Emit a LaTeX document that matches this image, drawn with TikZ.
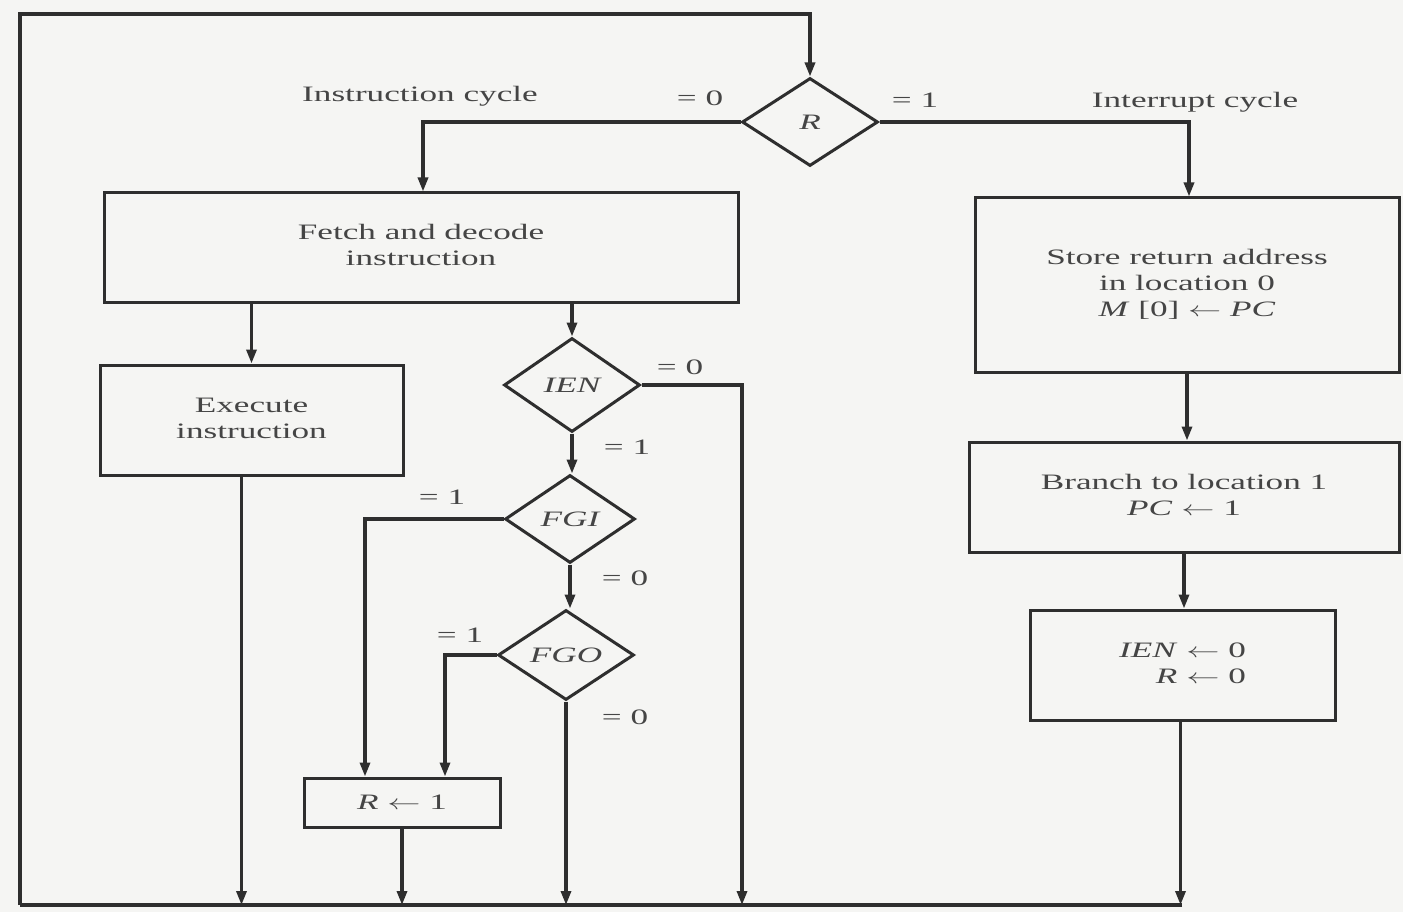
\documentclass[tikz,border=0pt]{standalone}
\usepackage{graphicx}
\usepackage{fontspec}
\setmainfont{Liberation Serif}
\usetikzlibrary{shapes.geometric,arrows.meta,calc}
\newcommand\sx[1]{\scalebox{1.6}[1]{#1}}
\definecolor{ink}{HTML}{2E2E2E}
\definecolor{txt}{HTML}{454545}
\definecolor{paper}{HTML}{F5F5F3}
\begin{document}
\begin{tikzpicture}[x=1pt,y=-1pt,
  line/.style={draw=ink,line width=3.2pt},
  arr/.style={line,-{Triangle[length=14pt,width=10pt]}},
  box/.style={draw=ink,line width=3pt,rectangle,inner sep=0pt,text=txt,font=\fontsize{22}{26}\selectfont},
  dec/.style={draw=ink,line width=3pt,diamond,inner sep=0pt,text=txt,font=\fontsize{22}{26}\selectfont\itshape},
  lbl/.style={text=txt,font=\fontsize{22}{26}\selectfont,inner sep=0pt}]
\fill[paper] (0,0) rectangle (1403,912);
\useasboundingbox (0,0) rectangle (1403,912);

% decisions
\node[dec,minimum width=136pt,minimum height=88pt] (R) at (810,122) {\sx{R}};
\node[dec,minimum width=136pt,minimum height=94pt] (IEN) at (572,385) {\sx{IEN}};
\node[dec,minimum width=130pt,minimum height=88pt] (FGI) at (570,519) {\sx{FGI}};
\node[dec,minimum width=136pt,minimum height=90pt] (FGO) at (566,655) {\sx{FGO}};

% boxes
\node[box,minimum width=634pt,minimum height=109pt] (fetch) at (421,247.5)
  {\sx{\begin{tabular}{@{}c@{}}Fetch and decode\\instruction\end{tabular}}};
\node[box,minimum width=303pt,minimum height=110pt] (exec) at (251.5,420)
  {\sx{\begin{tabular}{@{}c@{}}Execute\\instruction\end{tabular}}};
\node[box,minimum width=196pt,minimum height=49pt] (r1) at (402,802.5)
  {\sx{\textit{R} $\leftarrow$ 1}};
\node[box,minimum width=424pt,minimum height=174pt] (store) at (1187,285)
  {\sx{\begin{tabular}{@{}c@{}}Store return address\\in location 0\\\textit{M} [0] $\leftarrow$ \textit{PC}\end{tabular}}};
\node[box,minimum width=430pt,minimum height=110pt] (branch) at (1184,497)
  {\sx{\begin{tabular}{@{}c@{}}Branch to location 1\\\textit{PC} $\leftarrow$ 1\end{tabular}}};
\node[box,minimum width=305pt,minimum height=110pt] (ienz) at (1182.5,665)
  {\sx{\begin{tabular}{@{}r@{}}\textit{IEN} $\leftarrow$ 0\\\textit{R} $\leftarrow$ 0\end{tabular}}};

% labels
\node[lbl] (licyc) at (420,96) {\sx{Instruction cycle}};
\node[lbl] (lintc) at (1195,102) {\sx{Interrupt cycle}};
\node[lbl] (lR0) at (700,98) {\sx{= 0}};
\node[lbl] (lR1) at (915,100) {\sx{= 1}};
\node[lbl] (lI0) at (680,367) {\sx{= 0}};
\node[lbl] (lI1) at (627,447) {\sx{= 1}};
\node[lbl] (lG1) at (442,497) {\sx{= 1}};
\node[lbl] (lG0) at (625,578) {\sx{= 0}};
\node[lbl] (lO1) at (460,635) {\sx{= 1}};
\node[lbl] (lO0) at (625,717) {\sx{= 0}};

% return bus
\coordinate (bl) at (20,905);
\coordinate (br) at (1182,905);
\coordinate (tl) at (20,14);
\coordinate (c4) at (742,905);

\draw[line,line width=4pt] (br) -- (bl);
\draw[arr] (bl) -- (tl) -| (R.north);

% R branches
\draw[arr] (R.west) -| ([xshift=2pt]fetch.north);
\draw[arr] (R.east) -| ([xshift=2pt]store.north);

% instruction side
\draw[arr] (exec.north |- fetch.south) -- (exec.north);
\draw[arr] (IEN.north |- fetch.south) -- (IEN.north);
\draw[arr] ([xshift=-10pt]exec.south) -- ([xshift=-10pt]exec.south |- bl);
\draw[arr] (IEN.east) -| (c4);
\draw[arr] (IEN.south) -- (IEN.south |- FGI.north);
\draw[arr] (FGI.south) -- (FGI.south |- FGO.north);
\draw[arr] (FGI.west) -| ([xshift=-37pt]r1.north);
\draw[arr] (FGO.west) -| ([xshift=43pt]r1.north);
\draw[arr] (FGO.south) -- (FGO.south |- bl);
\draw[arr] (r1.south) -- (r1.south |- bl);

% interrupt side
\draw[arr] (store.south) -- (store.south |- branch.north);
\draw[arr] (branch.south) -- (branch.south |- ienz.north);
\draw[arr] ([xshift=-2pt]ienz.south) -- ([xshift=-2pt]ienz.south |- br);
\end{tikzpicture}
\end{document}
